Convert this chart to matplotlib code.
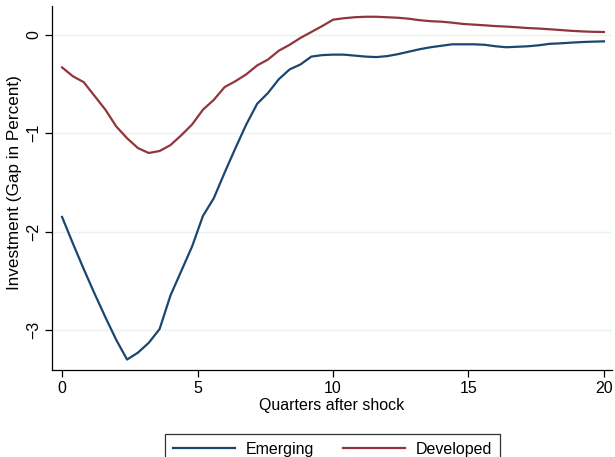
import matplotlib
matplotlib.use("Agg")
import matplotlib.pyplot as plt
import numpy as np

plt.rcParams['font.family'] = ['Liberation Sans', 'DejaVu Sans']

# trimestres (passo de 0.4)
quarters = np.linspace(0, 20, 51)

emerging = [-1.85, -2.12, -2.38, -2.63, -2.87, -3.10, -3.30, -3.23, -3.13, -2.99,
            -2.65, -2.40, -2.15, -1.84, -1.66, -1.40, -1.15, -0.91, -0.70, -0.59,
            -0.45, -0.35, -0.30, -0.22, -0.205, -0.20, -0.20, -0.21, -0.22, -0.225,
            -0.215, -0.195, -0.17, -0.145, -0.125, -0.11, -0.095, -0.095, -0.095, -0.10,
            -0.115, -0.125, -0.12, -0.115, -0.105, -0.09, -0.085, -0.078, -0.072, -0.068,
            -0.065]

developed = [-0.33, -0.42, -0.48, -0.62, -0.76, -0.93, -1.05, -1.15, -1.20, -1.18,
             -1.12, -1.02, -0.91, -0.76, -0.66, -0.53, -0.47, -0.40, -0.31, -0.25,
             -0.16, -0.10, -0.03, 0.03, 0.09, 0.155, 0.17, 0.18, 0.185, 0.185,
             0.18, 0.175, 0.165, 0.15, 0.14, 0.135, 0.125, 0.112, 0.105, 0.098,
             0.09, 0.085, 0.078, 0.07, 0.065, 0.058, 0.05, 0.042, 0.036, 0.032,
             0.03]

x_ticks = [0, 5, 10, 15, 20]
y_ticks = [-3, -2, -1, 0]

fig = plt.figure(figsize=(6.15, 4.57), dpi=100)
ax = fig.add_axes([0.0846, 0.190, 0.9106, 0.797])

ax.plot(quarters, emerging, color='#1a476f', lw=1.6, label='Emerging')
ax.plot(quarters, developed, color='#90353b', lw=1.6, label='Developed')

ax.set_xlim(-0.37, 20.3)
ax.set_ylim(-3.408, 0.295)
ax.set_xticks(x_ticks)
ax.set_yticks(y_ticks)
ax.set_yticklabels([str(v).replace('-', '\u2212') for v in y_ticks], rotation=90, va='center')

ax.grid(axis='y', color='#eaf2f3', lw=1)
ax.set_axisbelow(True)
for s in ['top', 'right']:
    ax.spines[s].set_visible(False)
ax.spines['left'].set_linewidth(0.9)
ax.spines['bottom'].set_linewidth(0.9)
ax.tick_params(direction='out', length=5, width=0.9, labelsize=11.5, pad=3)

ax.set_xlabel('Quarters after shock', fontsize=11.5, labelpad=1)
ax.set_ylabel('Investment (Gap in Percent)', fontsize=12.3, va='center')
ax.yaxis.set_label_coords(-0.067, 0.515)

leg = fig.legend(loc='upper center', bbox_to_anchor=(0.5407, 0.0678), ncol=2,
                 fontsize=11.5, frameon=True, fancybox=False, edgecolor='black',
                 handlelength=3.9, handletextpad=0.65, columnspacing=1.8,
                 borderpad=0.5)
leg.get_frame().set_linewidth(0.9)

plt.savefig('out.png', dpi=100)
